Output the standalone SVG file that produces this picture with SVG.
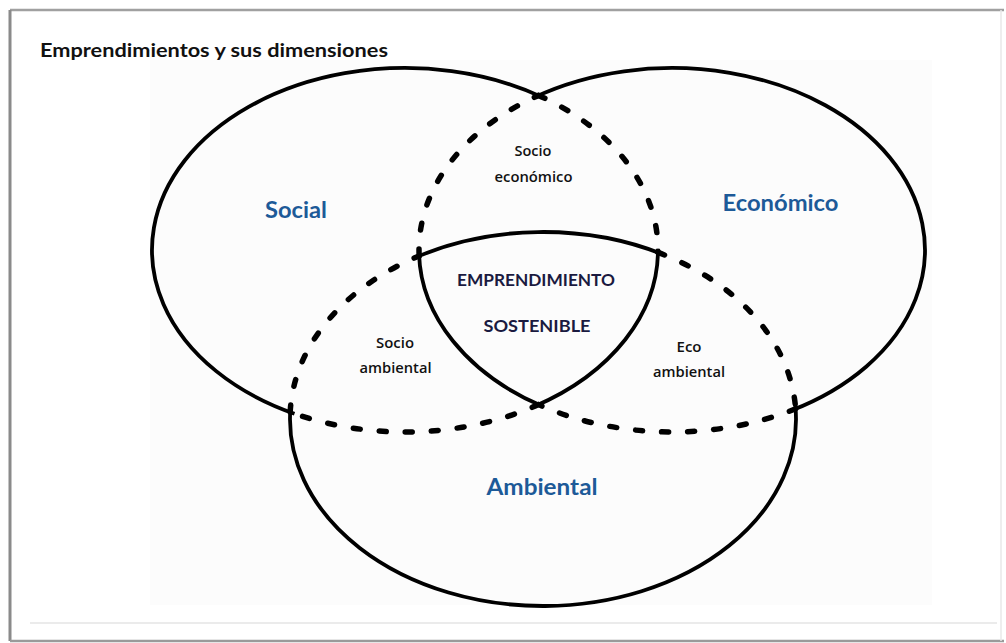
<svg xmlns="http://www.w3.org/2000/svg" width="1006" height="643" viewBox="0 0 1006 643">
<style>
.solid{fill:none;stroke:#000;stroke-width:3.8;stroke-linecap:butt}
.dash{fill:none;stroke:#000;stroke-width:5.5;stroke-linecap:round;stroke-dasharray:7 19}
.lbl{font-family:Lato,"Open Sans","Liberation Sans",sans-serif;font-weight:700;fill:#1d5a98;font-size:23px;text-anchor:middle}
.ctr{font-family:Lato,"Open Sans","Liberation Sans",sans-serif;font-weight:700;fill:#1a1a40;font-size:17px;text-anchor:middle}
.sm{font-family:"Open Sans",Lato,"Liberation Sans",sans-serif;font-weight:600;fill:#111;font-size:14px;text-anchor:middle}
.title{font-family:Lato,"Open Sans","Liberation Sans",sans-serif;font-weight:700;fill:#111;font-size:18.5px}
</style>
<rect x="0" y="0" width="1006" height="643" fill="#fff"/>
<rect x="150" y="60" width="782" height="545" fill="#fcfcfc"/>
<g id="frame" fill="none">
<line x1="10" y1="10" x2="1004" y2="10" stroke="#a0a0a0" stroke-width="2.5"/>
<line x1="10" y1="10" x2="10" y2="641" stroke="#8a8a8a" stroke-width="3"/>
<line x1="10" y1="641" x2="1004" y2="641" stroke="#9a9a9a" stroke-width="2.5"/>
<line x1="1001" y1="10" x2="1001" y2="641" stroke="#e8e8e8" stroke-width="1.5"/>
<line x1="30" y1="623" x2="997" y2="623" stroke="#e4e4e4" stroke-width="1.5"/>
</g>
<text class="title" x="40" y="57" textLength="348" lengthAdjust="spacingAndGlyphs">Emprendimientos y sus dimensiones</text>
<g id="connectors">
<g id="social-circle">
<path class="solid" d="M294.49 413.72 A253 182 0 1 1 542.79 97.36"/>
<path class="dash" d="M538.5 95.4 A253 182 0 0 1 657.98 252.4"/>
<path class="solid" d="M657.99 248.73 A253 182 0 0 1 534.19 406.48"/>
<path class="dash" d="M538.5 404.6 A253 182 0 0 1 289.7 412"/>
</g>
<g id="economico-circle">
<path class="solid" d="M534.02 97.45 A253 182 0 1 1 791.09 410.58"/>
<path class="dash" d="M795.73 408.75 A253 182 0 0 1 538.5 404.6"/>
<path class="solid" d="M543.02 406.57 A253 182 0 0 1 419.02 252.19"/>
<path class="dash" d="M419.14 256 A253 182 0 0 1 538.5 95.4"/>
</g>
<g id="ambiental-circle">
<path class="solid" d="M795.27 404.85 A253 187 0 1 1 290.43 408.07"/>
<path class="dash" d="M290.18 412 A253 187 0 0 1 419.14 255.94"/>
<path class="solid" d="M414.53 257.9 A253 187 0 0 1 662.66 254.24"/>
<path class="dash" d="M657.98 252.43 A253 187 0 0 1 795.62 408.75"/>
</g>
</g>
<g id="node-social"><text class="lbl" x="296" y="218" textLength="62" lengthAdjust="spacingAndGlyphs">Social</text></g>
<g id="node-economico"><text class="lbl" x="780.5" y="211" textLength="116" lengthAdjust="spacingAndGlyphs">Económico</text></g>
<g id="node-ambiental"><text class="lbl" x="542" y="495" textLength="111" lengthAdjust="spacingAndGlyphs">Ambiental</text></g>
<g id="node-socioeconomico">
<text class="sm" x="533" y="156" textLength="37" lengthAdjust="spacingAndGlyphs">Socio</text>
<text class="sm" x="533.5" y="182" textLength="78" lengthAdjust="spacingAndGlyphs">económico</text>
</g>
<g id="node-socioambiental">
<text class="sm" x="395" y="348" textLength="38" lengthAdjust="spacingAndGlyphs">Socio</text>
<text class="sm" x="395.5" y="373" textLength="72" lengthAdjust="spacingAndGlyphs">ambiental</text>
</g>
<g id="node-ecoambiental">
<text class="sm" x="689" y="352" textLength="25" lengthAdjust="spacingAndGlyphs">Eco</text>
<text class="sm" x="689" y="377" textLength="72" lengthAdjust="spacingAndGlyphs">ambiental</text>
</g>
<g id="node-sostenible">
<text class="ctr" x="536" y="286" textLength="158" lengthAdjust="spacingAndGlyphs">EMPRENDIMIENTO</text>
<text class="ctr" x="537" y="332" textLength="107" lengthAdjust="spacingAndGlyphs">SOSTENIBLE</text>
</g>
</svg>
